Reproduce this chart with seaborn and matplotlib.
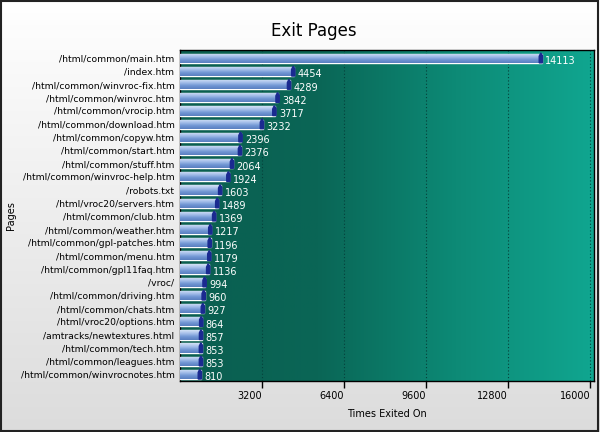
import numpy as np
import pandas as pd
import matplotlib
matplotlib.use('Agg')
import matplotlib.pyplot as plt
import seaborn as sns
from matplotlib.colors import LinearSegmentedColormap
from matplotlib.patches import Rectangle, Polygon

# data
pages = ['/html/common/main.htm', '/index.htm', '/html/common/winvroc-fix.htm',
         '/html/common/winvroc.htm', '/html/common/vrocip.htm', '/html/common/download.htm',
         '/html/common/copyw.htm', '/html/common/start.htm', '/html/common/stuff.htm',
         '/html/common/winvroc-help.htm', '/robots.txt', '/html/vroc20/servers.htm',
         '/html/common/club.htm', '/html/common/weather.htm', '/html/common/gpl-patches.htm',
         '/html/common/menu.htm', '/html/common/gpl11faq.htm', '/vroc/',
         '/html/common/driving.htm', '/html/common/chats.htm', '/html/vroc20/options.htm',
         '/amtracks/newtextures.html', '/html/common/tech.htm', '/html/common/leagues.htm',
         '/html/common/winvrocnotes.htm']
exits = [14113, 4454, 4289, 3842, 3717, 3232, 2396, 2376, 2064, 1924, 1603, 1489,
         1369, 1217, 1196, 1179, 1136, 994, 960, 927, 864, 857, 853, 853, 810]
xticks = [3200, 6400, 9600, 12800, 16000]

df = pd.DataFrame({'page': pages, 'exits': exits})

sns.set_theme(style='white')
plt.rcParams['font.family'] = ['DejaVu Sans']
plt.rcParams['text.color'] = 'black'
plt.rcParams['axes.labelcolor'] = 'black'
plt.rcParams['xtick.color'] = 'black'
plt.rcParams['ytick.color'] = 'black'

fig = plt.figure(figsize=(6, 4.32), dpi=100)

# figure background gradient (white -> light grey)
bg = fig.add_axes([0, 0, 1, 1], zorder=-10)
grad = np.linspace(0, 1, 256).reshape(-1, 1)
bg.imshow(grad, aspect='auto', extent=[0, 1, 0, 1],
          cmap=LinearSegmentedColormap.from_list('fbg', ['#ffffff', '#dcdcdc']))
bg.set_axis_off()
fig.patches.append(Rectangle((0.002, 0.003), 0.994, 0.994, transform=fig.transFigure,
                             fill=False, edgecolor='#222222', lw=1.5))

ax = fig.add_axes([0.3, 0.118, 0.69, 0.766])
sns.barplot(data=df, y='page', x='exits', orient='h', color='#8aaee0',
            width=0.7, ax=ax, zorder=3)

n = len(pages)
XMAX = 16150
YLIM = (n - 0.5, -0.62)

# plot area gradient (dark teal -> light teal)
hgrad = np.linspace(0, 1, 256).reshape(1, -1)
ax.imshow(hgrad, aspect='auto', extent=[0, XMAX, YLIM[0], YLIM[1]], zorder=0,
          cmap=LinearSegmentedColormap.from_list('abg', ['#0a5e50', '#0a6656', '#0d8a76', '#10a690']))

# bar gradient + dark slanted end cap
bar_cmap = LinearSegmentedColormap.from_list('bar', ['#d4e2f6', '#a6c0ea', '#7096d4', '#5a7fc0'])
vgrad = np.linspace(0, 1, 64).reshape(-1, 1)
for p in list(ax.patches):
    x0, y0 = p.get_x(), p.get_y()
    w, h = p.get_width(), p.get_height()
    im = ax.imshow(vgrad, aspect='auto', extent=[x0, x0 + w, y0 + h, y0],
                   cmap=bar_cmap, zorder=4)
    im.set_clip_path(p)
    xe = x0 + w
    ax.add_patch(Polygon([(xe - 100, y0 + h), (xe + 30, y0 + h), (xe + 30, y0 + 0.15),
                          (xe - 40, y0 - 0.05), (xe - 100, y0 + 0.2)],
                         closed=True, color='#1a2a90', zorder=5))
    ax.text(xe + 140, y0 + h / 2 + 0.22, f'{int(w)}', color='white',
            fontsize=7, va='center', ha='left', zorder=6)
ax.set_xlim(0, XMAX)
ax.set_ylim(*YLIM)

for xt in xticks:
    ax.axvline(xt, color='#06403a', ls=(0, (1, 2)), lw=0.8, zorder=2)

ax.set_xticks(xticks)
ax.set_xticklabels([str(v) for v in xticks], fontsize=7, ha='right')
ax.tick_params(axis='x', direction='out', length=5, width=1, color='black', bottom=True, pad=2)
ax.tick_params(axis='y', length=0, labelsize=6.7, pad=4)
for s in ax.spines.values():
    s.set_color('black')
    s.set_linewidth(1)

ax.set_xlabel('Times Exited On', fontsize=7, labelpad=6)
ax.set_ylabel('Pages', fontsize=7)
ax.yaxis.set_label_coords(-0.395, 0.5)
fig.suptitle('Exit Pages', fontsize=12, x=0.523, y=0.95, color='black')

fig.savefig('out.png', dpi=100)
